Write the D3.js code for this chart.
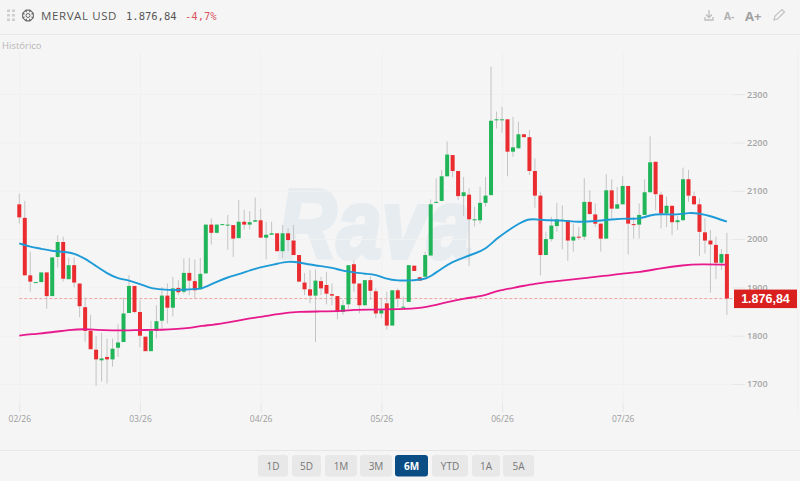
<!DOCTYPE html>
<html>
<head>
<meta charset="utf-8">
<style>
html, body { margin: 0; padding: 0; background: #f5f5f5; }
svg { display: block; }
</style>
<script src="https://cdn.jsdelivr.net/npm/d3@7"></script>
</head>
<body>
<div id="chart"></div>
<script>
var width = 800, height = 481;

var opens = [2072,2044,1925,1910,1911,1931,1882,1963,1994,1917,1946,1908,1859,1810,1771,1749,1756,1751,1775,1787,1847,1903,1849,1798,1768,1810,1831,1883,1858,1899,
	1891,1930,1913,1896,1929,2030,2013,2030,2029,2029,2002,2036,2030,2036,2039,2003,2009,2012,1975,2012,1997,1967,1910,1896,1883,1913,1905,1886,1882,1849,
	1865,1948,1908,1863,1915,1892,1846,1867,1821,1894,1859,1870,1945,1921,1922,1966,2075,2079,2130,2174,2141,2089,2092,2040,2039,2075,2091,2247,2248,2248,
	2181,2188,2217,2211,2141,2090,1967,2000,2027,2039,2039,1997,2005,2005,2077,2051,2032,2001,2101,2063,2072,2110,2031,2030,2050,2097,2160,2092,2053,2069,
	2035,2039,2124,2089,2072,2014,1997,1988,1951,1969];
var highs = [2094,2079,1974,1911,1931,1931,1962,2008,2005,1962,1962,1908,1879,1843,1799,1806,1794,1794,1824,1879,1925,1903,1874,1798,1831,1863,1901,1908,1922,1915,
	1960,1961,1958,1961,2030,2043,2030,2031,2050,2029,2081,2061,2058,2086,2063,2036,2036,2012,2029,2023,2029,1967,1930,1936,1937,1922,1932,1908,1882,1874,
	1946,1956,1908,1915,1923,1898,1877,1891,1894,1898,1881,1946,1945,1922,1974,2082,2126,2143,2202,2174,2141,2129,2105,2067,2108,2129,2357,2264,2274,2248,
	2253,2243,2217,2226,2167,2097,2015,2046,2075,2070,2039,2032,2025,2126,2101,2074,2032,2135,2124,2108,2130,2110,2046,2074,2124,2213,2160,2098,2088,2069,
	2048,2148,2143,2098,2084,2043,2019,2005,1979,2013];
var lows = [2032,1925,1891,1909,1911,1856,1882,1941,1912,1917,1900,1838,1787,1772,1696,1705,1701,1736,1756,1787,1847,1846,1776,1768,1768,1794,1815,1825,1840,1884,
	1887,1884,1877,1896,1929,1989,2012,2029,1978,1963,2002,2020,2020,2036,2003,1958,2009,1975,1961,1975,1967,1912,1884,1867,1787,1884,1865,1863,1834,1843,
	1856,1891,1846,1863,1874,1836,1836,1812,1821,1859,1858,1870,1934,1914,1922,1966,2075,2079,2130,2128,2081,2048,1944,2026,2032,2067,2091,2229,2220,2130,
	2170,2188,2211,2133,2065,1925,1967,1995,2015,1979,1955,1974,1998,1998,2050,2025,1974,2001,2043,2063,2072,1968,2001,2001,2050,2097,2060,2022,2025,2008,
	2019,2039,2077,2072,1965,1970,1889,1917,1936,1843];
var closes = [2045,1925,1912,1911,1931,1882,1962,1994,1918,1946,1910,1861,1810,1772,1751,1753,1751,1773,1786,1846,1903,1849,1800,1768,1810,1830,1883,1858,1898,1890,
	1930,1914,1894,1928,2030,2013,2030,2031,2030,2001,2036,2030,2035,2039,2003,2009,2012,1975,2012,1998,1967,1912,1896,1883,1914,1898,1887,1883,1849,1863,
	1946,1908,1863,1915,1893,1846,1853,1821,1894,1877,1860,1946,1934,1914,1967,2072,2077,2130,2175,2141,2089,2097,2041,2041,2075,2090,2245,2248,2248,2181,
	2190,2217,2211,2141,2090,1967,2000,2028,2041,2040,1997,2005,2003,2077,2052,2032,2001,2101,2063,2072,2110,2032,2029,2050,2097,2159,2093,2053,2069,2035,
	2039,2124,2090,2072,2015,1997,1989,1951,1969,1877];

var blueIdx = [0,2,4,6,9,10,12,14,16,18,20,22,24,26,28,31,33,34,36,38,40,43,45,47,49,51,53,55,57,59,61,63,65,67,69,71,74,75,77,79,81,83,85,87,89,91,93,95,96,99,102,105,108,111,113,115,117,120,122,124,126,129];
var blueVal = [1991,1984,1980,1975,1973,1970,1960,1944,1929,1918,1915,1907,1898,1896,1894,1896,1897,1901,1912,1921,1927,1939,1944,1949,1954,1952,1947,1944,1941,1934,1931,1928,1927,1917,1914,1914,1917,1923,1939,1953,1962,1970,1979,2001,2017,2032,2043,2040,2039,2039,2035,2037,2041,2043,2041,2050,2052,2050,2055,2053,2048,2036];
var pinkIdx = [0,2,6,9,12,14,17,20,23,26,29,31,33,37,41,44,47,51,55,59,61,64,71,74,78,81,85,87,91,94,97,101,107,110,113,117,121,124,129];
var pinkVal = [1800,1803,1807,1812,1814,1812,1811,1811,1812,1812,1814,1816,1820,1825,1834,1839,1845,1850,1850,1851,1854,1854,1855,1858,1870,1877,1883,1893,1901,1908,1912,1917,1924,1929,1931,1940,1946,1948,1947];

var lastPrice = 1876.84;
var priceTicks = [1700,1800,1900,2000,2100,2200,2300];
var dateTickIdx = [0,22,44,66,88,110];
var dateLabels = ["02/26","03/26","04/26","05/26","06/26","07/26"];
var ranges = ["1D","5D","1M","3M","6M","YTD","1A","5A"];
var activeRange = "6M";

var uiFont = "'Open Sans', sans-serif";
var GREEN = "#20b558", RED = "#ea2b2f", WICK = "#c4c4c4";

var x = d3.scaleLinear().domain([0, 129]).range([19.3, 726.9]);
var y = d3.scaleLinear().domain([1700, 2300]).range([384, 94.2]);

var svg = d3.select("#chart").append("svg")
	.attr("width", width)
	.attr("height", height);

svg.append("rect").attr("width", width).attr("height", height).attr("fill", "#f5f5f5");

// header
svg.append("line").attr("x1", 0).attr("x2", width).attr("y1", 34.5).attr("y2", 34.5).attr("stroke", "#e8e8e8");
svg.append("line").attr("x1", 0).attr("x2", width).attr("y1", 450.5).attr("y2", 450.5).attr("stroke", "#e6e6e6");

var dots = svg.append("g").attr("fill", "#cfcfcf");
[0, 1, 2].forEach(function(r) {
	[0, 1].forEach(function(c) {
		dots.append("rect").attr("x", 7 + c * 5).attr("y", 9.5 + r * 4.5).attr("width", 3).attr("height", 2.5);
	});
});
var gear = svg.append("g").attr("transform", "translate(28,15.5)").attr("fill", "none").attr("stroke", "#6a6a6a");
gear.append("circle").attr("r", 2).attr("stroke-width", 1);
gear.append("path").attr("stroke-width", 1.1)
	.attr("d", d3.range(8).map(function(i) {
		var a0 = i * Math.PI / 4 - 0.3, a1 = i * Math.PI / 4 + 0.3, a2 = i * Math.PI / 4 + Math.PI / 8;
		return (i ? "L" : "M") + (5.6 * Math.cos(a0)) + "," + (5.6 * Math.sin(a0)) +
			"L" + (5.6 * Math.cos(a1)) + "," + (5.6 * Math.sin(a1)) +
			"L" + (4.4 * Math.cos(a2)) + "," + (4.4 * Math.sin(a2));
	}).join("") + "Z");

svg.append("text").attr("x", 41).attr("y", 20).attr("font-family", uiFont).attr("font-size", 11.5)
	.attr("letter-spacing", 0.6).attr("fill", "#555").text("MERVAL USD");
svg.append("text").attr("x", 126).attr("y", 20).attr("font-family", "'DejaVu Sans Mono', monospace").attr("font-size", 10.5)
	.attr("fill", "#555").text("1.876,84");
svg.append("text").attr("x", 185).attr("y", 20).attr("font-family", "'DejaVu Sans Mono', monospace").attr("font-size", 10.5)
	.attr("fill", "#d9555f").text("-4,7%");
svg.append("text").attr("x", 2).attr("y", 49).attr("font-family", uiFont).attr("font-size", 9.5)
	.attr("fill", "#b5b5b5").text("Histórico");

// toolbar icons on the right
svg.append("path").attr("fill", "none").attr("stroke", "#bdbdbd").attr("stroke-width", 1.3)
	.attr("d", "M709,10V17M706,14.5L709,17.5L712,14.5M705,17V20H713V17");
svg.append("text").attr("x", 724).attr("y", 20).attr("font-family", uiFont).attr("font-size", 10).attr("font-weight", 700)
	.attr("fill", "#b0b0b0").text("A-");
svg.append("text").attr("x", 745).attr("y", 20.5).attr("font-family", uiFont).attr("font-size", 13).attr("font-weight", 700)
	.attr("fill", "#a0a0a0").text("A+");
svg.append("path").attr("fill", "none").attr("stroke", "#c2c2c2").attr("stroke-width", 1.2)
	.attr("d", "M774,20L775,16L782,9.5L784.5,12L777.5,19Z");

// watermark
svg.append("text").attr("transform", "translate(278,258) scale(0.82,1)")
	.attr("font-family", "'Liberation Sans', sans-serif")
	.attr("font-size", 99).attr("font-weight", 700).attr("font-style", "italic")
	.attr("fill", "#e6ecf0").attr("stroke", "#e6ecf0").attr("stroke-width", 4)
	.text("Rava");

// grid
svg.append("g").selectAll("line").data(priceTicks).enter().append("line")
	.attr("x1", 0).attr("x2", 733)
	.attr("y1", function(d) { return y(d) + 0.5; })
	.attr("y2", function(d) { return y(d) + 0.5; })
	.attr("stroke", "#f1f1f1");
svg.append("g").selectAll("line").data(dateTickIdx).enter().append("line")
	.attr("x1", function(d) { return x(d) + 0.5; })
	.attr("x2", function(d) { return x(d) + 0.5; })
	.attr("y1", 52).attr("y2", 403)
	.attr("stroke", "#f0f0f0");
svg.append("line").attr("x1", 797.5).attr("x2", 797.5).attr("y1", 52).attr("y2", 412).attr("stroke", "#f0f0f0");

// axes
var yAxis = d3.axisRight(y).tickValues(priceTicks).tickSize(12).tickPadding(2).tickFormat(d3.format("d"));
var yG = svg.append("g").attr("transform", "translate(733,0)").call(yAxis);
yG.select(".domain").remove();
yG.selectAll("line").attr("stroke", "#e6e6e6");
yG.selectAll("text").attr("font-family", uiFont).attr("font-size", 9).attr("font-weight", 600).attr("fill", "#a6a6a6");

var xAxis = d3.axisTop(x).tickValues(dateTickIdx).tickSize(9).tickPadding(-19)
	.tickFormat(function(d, i) { return dateLabels[i]; });
var xG = svg.append("g").attr("transform", "translate(0,412)").call(xAxis);
xG.select(".domain").remove();
xG.selectAll("line").attr("stroke", "#e6e6e6");
xG.selectAll("text").attr("font-family", uiFont).attr("font-size", 8.5).attr("fill", "#9c9c9c");

// last price line
svg.append("line")
	.attr("x1", x(0)).attr("x2", 733)
	.attr("y1", y(lastPrice)).attr("y2", y(lastPrice))
	.attr("stroke", "#f0a0a0").attr("stroke-width", 1).attr("stroke-dasharray", "3,2");

// candles
var candles = svg.append("g").selectAll("g").data(d3.range(opens.length)).enter().append("g");
candles.append("line")
	.attr("x1", function(i) { return x(i); })
	.attr("x2", function(i) { return x(i); })
	.attr("y1", function(i) { return y(highs[i]); })
	.attr("y2", function(i) { return y(lows[i]); })
	.attr("stroke", WICK).attr("stroke-width", 1);
candles.append("rect")
	.attr("x", function(i) { return x(i) - 2; })
	.attr("width", 4)
	.attr("y", function(i) { return y(Math.max(opens[i], closes[i])); })
	.attr("height", function(i) { return Math.max(1, Math.abs(y(opens[i]) - y(closes[i]))); })
	.attr("fill", function(i) { return closes[i] >= opens[i] ? GREEN : RED; });

// moving averages
var maLine = d3.line()
	.x(function(d) { return x(d[0]); })
	.y(function(d) { return y(d[1]); })
	.curve(d3.curveBasis);
svg.append("path").datum(d3.zip(pinkIdx, pinkVal)).attr("d", maLine)
	.attr("fill", "none").attr("stroke", "#e8198c").attr("stroke-width", 1.8);
svg.append("path").datum(d3.zip(blueIdx, blueVal)).attr("d", maLine)
	.attr("fill", "none").attr("stroke", "#1e9bd7").attr("stroke-width", 1.9);

// price tag
svg.append("rect").attr("x", 734).attr("y", y(lastPrice) - 9).attr("width", 63).attr("height", 18.5).attr("fill", "#d9201f");
svg.append("text").attr("x", 765.5).attr("y", y(lastPrice) + 4.6).attr("text-anchor", "middle")
	.attr("font-family", "'Liberation Sans', sans-serif").attr("font-size", 12.5).attr("font-weight", 700)
	.attr("fill", "#fff").text("1.876,84");

// range buttons
var btnW = [30, 29, 32, 32, 33, 36, 28, 31];
var btnX = [258, 292, 325, 360, 395, 432, 472, 503];
var btns = svg.append("g").selectAll("g").data(ranges).enter().append("g")
	.attr("transform", function(d, i) { return "translate(" + btnX[i] + ",455)"; });
btns.append("rect")
	.attr("width", function(d, i) { return btnW[i]; })
	.attr("height", 21.5).attr("rx", 3)
	.attr("fill", function(d) { return d === activeRange ? "#0a4c84" : "#e8e8e8"; });
btns.append("text")
	.attr("x", function(d, i) { return btnW[i] / 2; })
	.attr("y", 14.5).attr("text-anchor", "middle")
	.attr("font-family", uiFont).attr("font-size", 10)
	.attr("font-weight", function(d) { return d === activeRange ? 700 : 400; })
	.attr("fill", function(d) { return d === activeRange ? "#fff" : "#777"; })
	.text(function(d) { return d; });
</script>
</body>
</html>
